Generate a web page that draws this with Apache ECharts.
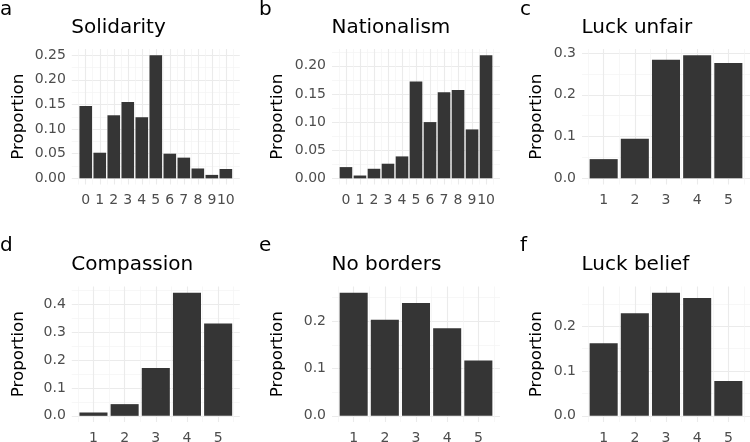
<!DOCTYPE html>
<html>
<head>
<meta charset="utf-8">
<script src="https://cdn.jsdelivr.net/npm/echarts@6/dist/echarts.min.js"></script>
<style>
  html, body { margin: 0; padding: 0; background: #ffffff; }
  #chart { width: 750px; height: 442px; }
</style>
</head>
<body>
<div id="chart"></div>
<script>
// ---- data ----
const solidarityCats = [0, 1, 2, 3, 4, 5, 6, 7, 8, 9, 10];
const solidarityVals = [0.147, 0.052, 0.128, 0.155, 0.124, 0.250, 0.050, 0.042, 0.020, 0.007, 0.019];
const solidarityTicks = [0, 0.05, 0.10, 0.15, 0.20, 0.25];

const nationalismCats = [0, 1, 2, 3, 4, 5, 6, 7, 8, 9, 10];
const nationalismVals = [0.020, 0.005, 0.017, 0.026, 0.039, 0.172, 0.100, 0.153, 0.157, 0.087, 0.219];
const nationalismTicks = [0, 0.05, 0.10, 0.15, 0.20];

const luckUnfairCats = [1, 2, 3, 4, 5];
const luckUnfairVals = [0.046, 0.095, 0.284, 0.295, 0.276];
const luckUnfairTicks = [0, 0.1, 0.2, 0.3];

const compassionCats = [1, 2, 3, 4, 5];
const compassionVals = [0.012, 0.042, 0.172, 0.442, 0.331];
const compassionTicks = [0, 0.1, 0.2, 0.3, 0.4];

const noBordersCats = [1, 2, 3, 4, 5];
const noBordersVals = [0.260, 0.203, 0.238, 0.185, 0.117];
const noBordersTicks = [0, 0.1, 0.2];

const luckBeliefCats = [1, 2, 3, 4, 5];
const luckBeliefVals = [0.162, 0.229, 0.275, 0.263, 0.078];
const luckBeliefTicks = [0, 0.1, 0.2];

const panelTitles = ['Solidarity', 'Nationalism', 'Luck unfair', 'Compassion', 'No borders', 'Luck belief'];
const panelTags = ['a', 'b', 'c', 'd', 'e', 'f'];
const yAxisTitle = 'Proportion';

// ---- layout / style ----
const FONT = 'DejaVu Sans';
const colLeft = [71.8, 332, 582];
const rowTop = [49, 286.5];
const panelW = 168;
const panelH = 135.5;
const nameGaps = [45, 45.5, 37];
const tagLeft = [0, 259, 520];
const tagTop = [0, 236];
const titleTop = [18, 254.5];
const BAR = '#353535';
const GRID_MAJOR = '#ebebeb';
const GRID_MINOR = '#f3f3f3';

const panels = [
  { cats: solidarityCats, vals: solidarityVals, ticks: solidarityTicks, dec: 2 },
  { cats: nationalismCats, vals: nationalismVals, ticks: nationalismTicks, dec: 2 },
  { cats: luckUnfairCats, vals: luckUnfairVals, ticks: luckUnfairTicks, dec: 1 },
  { cats: compassionCats, vals: compassionVals, ticks: compassionTicks, dec: 1 },
  { cats: noBordersCats, vals: noBordersVals, ticks: noBordersTicks, dec: 1 },
  { cats: luckBeliefCats, vals: luckBeliefVals, ticks: luckBeliefTicks, dec: 1 }
];

const grids = [], xAxes = [], yAxes = [], series = [], titles = [];

panels.forEach((p, i) => {
  const col = i % 3, row = Math.floor(i / 3);
  // ggplot-like continuous limits: bars of width 0.9, 5% expansion
  const lo = Math.min(...p.cats) - 0.45, hi = Math.max(...p.cats) + 0.45;
  const xMin = lo - 0.05 * (hi - lo), xMax = hi + 0.05 * (hi - lo);
  const vMax = Math.max(...p.vals);
  const yMin = -0.05 * vMax, yMax = 1.05 * vMax;
  const xMinor = [p.cats[0] - 0.5].concat(p.cats.map(c => c + 0.5)).filter(v => v > xMin && v < xMax);
  const step = p.ticks[1] - p.ticks[0];
  const yMinor = [p.ticks[0] - step / 2].concat(p.ticks.map(t => t + step / 2)).filter(v => v > yMin && v < yMax);

  grids.push({ left: colLeft[col], top: rowTop[row], width: panelW, height: panelH, outerBoundsMode: 'none', containLabel: false });

  xAxes.push({
    type: 'value', gridIndex: i, min: xMin, max: xMax, position: 'bottom',
    axisLine: { show: false },
    axisTick: { show: false, customValues: p.cats },
    axisLabel: { customValues: p.cats, margin: 9, color: '#4d4d4d', fontSize: 14, fontFamily: FONT, formatter: v => String(Math.round(v)) },
    splitLine: { show: true, lineStyle: { color: GRID_MAJOR, width: 1.1 } }
  });
  xAxes.push({
    type: 'value', gridIndex: i, min: xMin, max: xMax, position: 'top',
    axisLine: { show: false },
    axisTick: { show: false, customValues: xMinor },
    axisLabel: { show: false },
    splitLine: { show: true, lineStyle: { color: GRID_MINOR, width: 0.7 } }
  });
  yAxes.push({
    type: 'value', gridIndex: i, min: yMin, max: yMax, position: 'left',
    name: yAxisTitle, nameLocation: 'middle', nameGap: nameGaps[col],
    nameTextStyle: { fontSize: 16.7, color: '#000000', fontFamily: FONT },
    axisLine: { show: false },
    axisTick: { show: false, customValues: p.ticks },
    axisLabel: { customValues: p.ticks, margin: 6, color: '#4d4d4d', fontSize: 14, fontFamily: FONT, formatter: v => v.toFixed(p.dec) },
    splitLine: { show: true, lineStyle: { color: GRID_MAJOR, width: 1.1 } }
  });
  yAxes.push({
    type: 'value', gridIndex: i, min: yMin, max: yMax, position: 'right',
    axisLine: { show: false },
    axisTick: { show: false, customValues: yMinor },
    axisLabel: { show: false },
    splitLine: { show: true, lineStyle: { color: GRID_MINOR, width: 0.7 } }
  });

  series.push({
    type: 'bar', xAxisIndex: 2 * i, yAxisIndex: 2 * i,
    data: p.cats.map((c, k) => [c, p.vals[k]]),
    barWidth: 0.9 * panelW / (xMax - xMin),
    itemStyle: { color: BAR },
    silent: true
  });

  titles.push({
    text: panelTitles[i], left: colLeft[col] - 0.5, top: titleTop[row], padding: 0,
    textStyle: { fontSize: 20, fontWeight: 'normal', color: '#000000', fontFamily: FONT }
  });
  titles.push({
    text: panelTags[i], left: tagLeft[col], top: tagTop[row], padding: 0,
    textStyle: { fontSize: 20, fontWeight: 'normal', color: '#000000', fontFamily: FONT }
  });
});

const chart = echarts.init(document.getElementById('chart'), null, { renderer: 'canvas' });
chart.setOption({
  animation: false,
  backgroundColor: '#ffffff',
  title: titles,
  grid: grids,
  xAxis: xAxes,
  yAxis: yAxes,
  series: series
});
</script>
</body>
</html>
